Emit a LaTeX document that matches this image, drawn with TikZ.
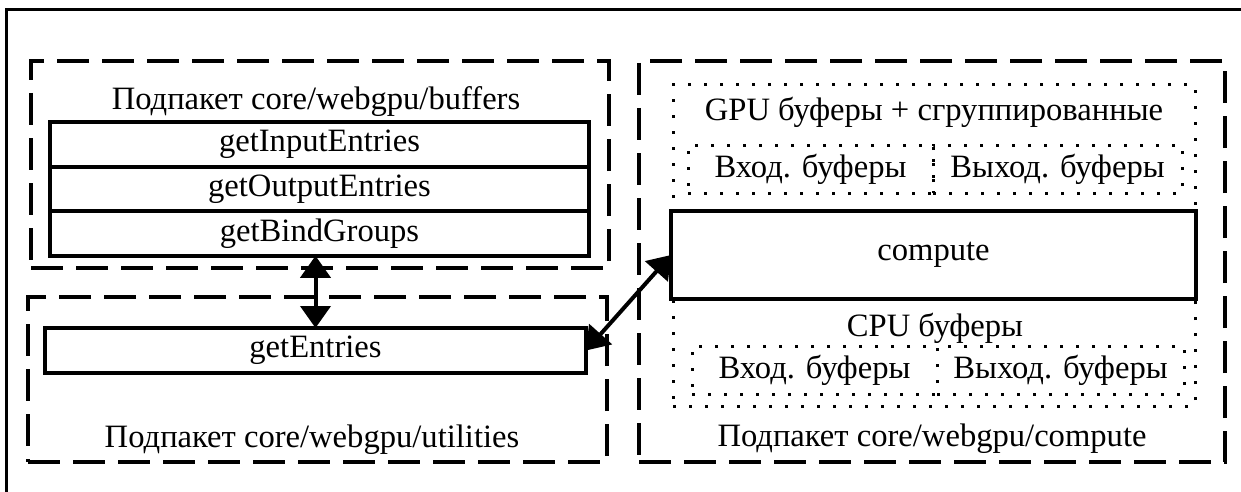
\documentclass[tikz,border=0pt]{standalone}
\usepackage{fontspec}
\setmainfont{Liberation Serif}
\usetikzlibrary{positioning, arrows.meta}

\begin{document}
\begin{tikzpicture}[x=0.5pt,y=-0.5pt,
		every node/.style={font=\fontsize{16.3}{19}\selectfont, inner sep=0pt, outer sep=0pt},
		pkg/.style={draw, line width=2pt, dash pattern=on 16pt off 6.5pt},
		grp/.style={draw, line width=1.5pt, dash pattern=on 1.5pt off 6.5pt},
		func/.style={draw, line width=2pt, fill=white},
		link/.style={line width=2pt, {Triangle[length=11pt,width=15pt]}-{Triangle[length=11pt,width=15pt]}}]
	\useasboundingbox (0,0) rectangle (1241,492);
	\draw[line width=1.5pt] (6,10) rectangle (1250,505);

	% buffers
	\node[pkg, minimum width=289pt, minimum height=103.5pt] (buffers) at (320,164.5) {};
	\node (bufname) at (316,102) {Подпакет core/webgpu/buffers};
	\node[func, minimum width=269.5pt, minimum height=22.3pt] (inputs) at (319.5,144.3) {getInputEntries};
	\node[func, minimum width=269.5pt, minimum height=22.3pt, below=0pt of inputs] (outputs) {getOutputEntries};
	\node[func, minimum width=269.5pt, minimum height=22.3pt, below=0pt of outputs] (groups) {getBindGroups};

	% utilities
	\node[pkg, minimum width=289.5pt, minimum height=82.5pt] (utilities) at (317.5,379.5) {};
	\node[func, minimum width=270.5pt, minimum height=22.5pt] (entries) at (315.5,350.5) {getEntries};
	\node (utilname) at (312,440) {Подпакет core/webgpu/utilities};

	% compute
	\node[pkg, minimum width=293pt, minimum height=200.5pt] (computepkg) at (932,261.5) {};
	\node (compname) at (932,439) {Подпакет core/webgpu/compute};
	\node[grp, minimum width=261pt, minimum height=63pt] (gpu) at (934,148) {};
	\node (gpuname) at (934,112) {GPU буферы + сгруппированные};
	\node[grp, minimum width=122.5pt, minimum height=24pt] (gpuin) at (810.5,169) {Вход. буферы};
	\node[grp, minimum width=124.5pt, minimum height=24pt, right=0pt of gpuin] (gpuout) {Выход. буферы};
	\node[grp, minimum width=261pt, minimum height=53.5pt] (cpu) at (934,352.5) {};
	\node (cpuname) at (935,328) {CPU буферы};
	\node[grp, minimum width=122.5pt, minimum height=24pt] (cpuin) at (814.5,370) {Вход. буферы};
	\node[grp, minimum width=123.5pt, minimum height=24pt, right=0pt of cpuin] (cpuout) {Выход. буферы};
	\node[func, minimum width=262.5pt, minimum height=44pt] (compute) at (933.5,255) {compute};

	% links
	\draw[link] (groups.south -| entries.north) -- (entries.north);
	\draw[link] (entries.east) -- (compute.west);
\end{tikzpicture}
\end{document}
